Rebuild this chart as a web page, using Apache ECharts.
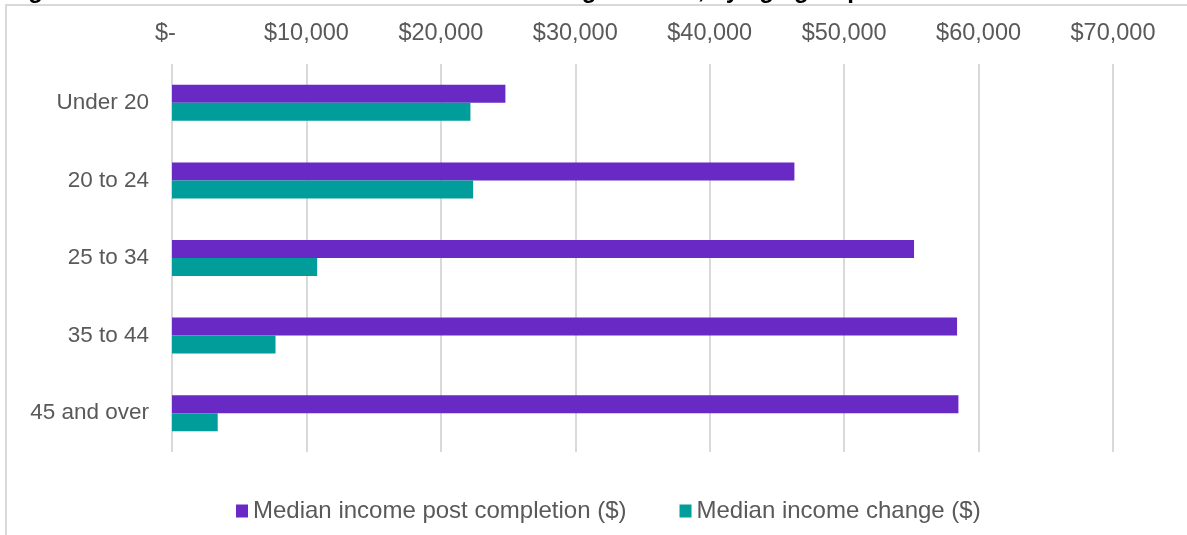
<!DOCTYPE html>
<html>
<head>
<meta charset="utf-8">
<script src="https://cdn.jsdelivr.net/npm/echarts@6/dist/echarts.min.js"></script>
<style>
  html, body { margin: 0; padding: 0; background: #fff; }
  #main { width: 1187px; height: 535px; }
</style>
</head>
<body>
<div id="main"></div>
<script>
// data
var categories = ['Under 20', '20 to 24', '25 to 34', '35 to 44', '45 and over'];
var postCompletion = [24800, 46300, 55200, 58400, 58500];
var incomeChange = [22200, 22400, 10800, 7700, 3400];
var xTicks = [0, 10000, 20000, 30000, 40000, 50000, 60000, 70000];

var fontFamily = '"Liberation Sans", Arial, sans-serif';
var grey = '#595959';

var myChart = echarts.init(document.getElementById('main'));
option = {
    backgroundColor: '#fff',
    animation: false,
    graphic: [
        {
            // chart frame
            type: 'rect',
            shape: { x: 6, y: 5, width: 1400, height: 700 },
            style: { fill: 'none', stroke: '#d9d9d9', lineWidth: 2 },
            silent: true
        },
        {
            // title, cut off at the top of the picture
            type: 'text',
            style: {
                text: 'Figure 6: Median income and median income change in 2019, by age group',
                x: 7,
                y: -9,
                verticalAlign: 'middle',
                fill: '#000',
                font: 'bold 24px ' + fontFamily
            },
            silent: true
        }
    ],
    grid: {
        left: 172,
        right: 74,
        top: 64,
        bottom: 83
    },
    legend: {
        left: 231,
        top: 494,
        itemWidth: 12,
        itemHeight: 13,
        itemGap: 53,
        icon: 'rect',
        textStyle: { color: grey, fontSize: 24, fontFamily: fontFamily },
        data: ['Median income post completion ($)', 'Median income change ($)']
    },
    xAxis: {
        type: 'value',
        position: 'top',
        min: xTicks[0],
        max: xTicks[xTicks.length - 1],
        interval: xTicks[1] - xTicks[0],
        axisLine: { show: false },
        axisTick: { show: false },
        axisLabel: {
            color: grey,
            fontSize: 23.5,
            fontFamily: fontFamily,
            margin: 18,
            formatter: function (v) {
                return v === 0 ? '$-  ' : '$' + v.toLocaleString('en-US');
            }
        },
        splitLine: { lineStyle: { color: '#d9d9d9', width: 2 } }
    },
    yAxis: {
        type: 'category',
        inverse: true,
        data: categories,
        axisLine: { show: false },
        axisTick: { show: false },
        axisLabel: {
            color: grey,
            fontSize: 22.5,
            fontFamily: fontFamily,
            margin: 23
        }
    },
    series: [
        {
            name: 'Median income post completion ($)',
            type: 'bar',
            data: postCompletion,
            barWidth: 18,
            barGap: '0%',
            itemStyle: { color: '#6929c4' }
        },
        {
            name: 'Median income change ($)',
            type: 'bar',
            data: incomeChange,
            barWidth: 18,
            barGap: '0%',
            itemStyle: { color: '#009d9a' }
        }
    ]
};
myChart.setOption(option);
</script>
</body>
</html>
